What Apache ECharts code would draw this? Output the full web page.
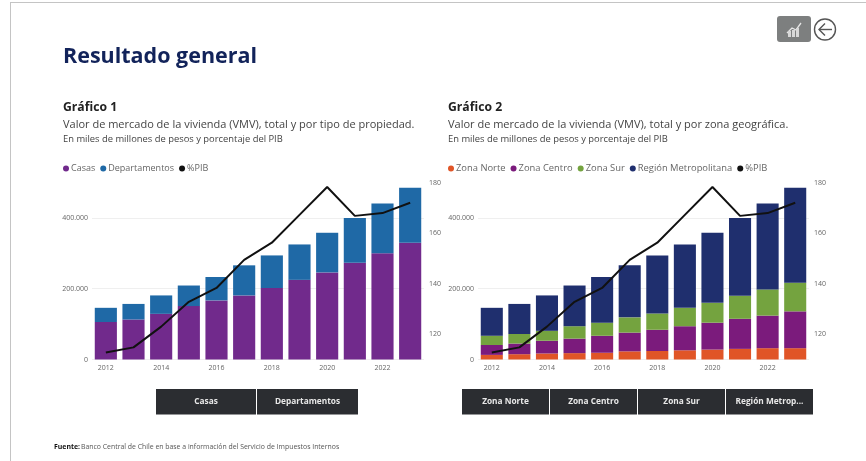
<!DOCTYPE html>
<html lang="es">
<head>
<meta charset="utf-8">
<title>Resultado general</title>
<style>
  html, body { margin: 0; padding: 0; background: #ffffff; }
  #chart { width: 866px; height: 461px; }
</style>
<script src="https://cdn.jsdelivr.net/npm/echarts@6/dist/echarts.min.js"></script>
</head>
<body>
<div id="chart"></div>
<script>
const years = ['2012','2013','2014','2015','2016','2017','2018','2019','2020','2021','2022','2023'];

// Gráfico 1: por tipo de propiedad (miles de millones de pesos)
const casas = [106,113,129,151,167,181,202,225,246,273,300,330].map(v => v * 1000);
const departamentos = [40,44,52,58,66,85,92,100,112,127,141,155].map(v => v * 1000);

// Gráfico 2: por zona geográfica (miles de millones de pesos)
const zonaNorte = [13,15,17,18,19,23,24,26,28,30,32,32].map(v => v * 1000);
const zonaCentro = [28,30,36,41,48,53,60,68,76,85,92,104].map(v => v * 1000);
const zonaSur = [26,27,28,35,37,43,46,52,56,65,74,81].map(v => v * 1000);
const regionMetropolitana = [79,85,100,115,129,147,164,179,198,220,243,268].map(v => v * 1000);

// Valor de mercado como porcentaje del PIB
const pib = [112.8,114.8,123,132.8,138.3,149.4,156.2,167.2,178.2,166.8,167.9,172];

const leftTicks = [0, 200000, 400000];
const rightTicks = [120, 140, 160, 180];
const font = '"Open Sans", sans-serif';
const textGray = '#444444';
const navy = '#12235a';

function valueAxes(gridIndex) {
  return [
    {
      type: 'value', gridIndex, min: 0, max: 500000, interval: 200000,
      axisLine: { show: false }, axisTick: { show: false },
      axisLabel: {
        customValues: leftTicks, fontFamily: font, fontSize: 7, color: '#666',
        margin: 4, formatter: v => String(v).replace(/\B(?=(\d{3})+$)/g, '.')
      },
      splitLine: { show: true, showMaxLine: false, lineStyle: { color: '#efefef', width: 1 } }
    },
    {
      type: 'value', gridIndex, min: 110, max: 180, position: 'right',
      axisLine: { show: false }, axisTick: { show: false },
      axisLabel: { customValues: rightTicks, fontFamily: font, fontSize: 7, color: '#666', margin: 5 },
      splitLine: { show: false }
    }
  ];
}

function categoryAxis(gridIndex) {
  return {
    type: 'category', gridIndex, data: years,
    axisLine: { show: false }, axisTick: { show: false },
    axisLabel: { interval: 1, fontFamily: font, fontSize: 7, color: '#666', margin: 5 }
  };
}

function barSeries(name, data, color, axisBase) {
  return {
    name, type: 'bar', stack: 'vmv' + axisBase, data, barWidth: '80%',
    xAxisIndex: axisBase, yAxisIndex: axisBase * 2,
    itemStyle: { color }, emphasis: { disabled: true }
  };
}

function pibSeries(axisBase) {
  return {
    name: '%PIB', type: 'line', data: pib, symbol: 'none', z: 5,
    xAxisIndex: axisBase, yAxisIndex: axisBase * 2 + 1,
    lineStyle: { color: '#111111', width: 2 }, itemStyle: { color: '#111111' }
  };
}

function legend(left, names, fontSize) {
  return {
    left, top: 159, data: names.map(name => ({ name, icon: 'circle' })),
    itemWidth: 6, itemHeight: 6, itemGap: 5,
    textStyle: { fontFamily: font, fontSize, color: '#666', padding: [0, 0, 0, -3] },
    selectedMode: false
  };
}

function text(x, y, content, fontSize, fontWeight, fill) {
  return {
    type: 'text', x, y,
    style: { text: content, fontFamily: font, fontSize, fontWeight, fill, textVerticalAlign: 'middle' }
  };
}

function buttons(x, y, widths, labels) {
  let cursor = x;
  const out = [];
  labels.forEach((label, i) => {
    out.push({ type: 'rect', shape: { x: cursor, y, width: widths[i], height: 25.5 }, style: { fill: '#2b2d31' } });
    out.push({
      type: 'text', x: cursor + widths[i] / 2, y: y + 13,
      style: { text: label, fontFamily: font, fontSize: 8.3, fontWeight: 700, fill: '#e8e8e8', textAlign: 'center', textVerticalAlign: 'middle' }
    });
    cursor += widths[i] + 1;
  });
  return out;
}

const graphicElements = [
  // marco de la página
  { type: 'rect', shape: { x: 10, y: 2, width: 856, height: 1 }, style: { fill: '#c4c4c4' } },
  { type: 'rect', shape: { x: 10, y: 2, width: 1, height: 459 }, style: { fill: '#c4c4c4' } },

  text(63, 57, 'Resultado general', 21.5, 700, navy),

  text(63, 108, 'Gráfico 1', 12.2, 700, '#222'),
  text(63, 125, 'Valor de mercado de la vivienda (VMV), total y por tipo de propiedad.', 11, 400, textGray),
  text(63, 139, 'En miles de millones de pesos y porcentaje del PIB', 9.4, 400, textGray),

  text(448, 108, 'Gráfico 2', 12.2, 700, '#222'),
  text(448, 125, 'Valor de mercado de la vivienda (VMV), total y por zona geográfica.', 11, 400, textGray),
  text(448, 139, 'En miles de millones de pesos y porcentaje del PIB', 9.4, 400, textGray),

  ...buttons(156, 389, [100, 101], ['Casas', 'Departamentos']),
  ...buttons(462, 389, [87, 87, 87, 87], ['Zona Norte', 'Zona Centro', 'Zona Sur', 'Región Metrop...']),

  text(54, 447, 'Fuente:', 6.9, 700, '#111'),
  text(81, 447, 'Banco Central de Chile en base a información del Servicio de Impuestos Internos', 6.9, 400, '#555'),

  // botón de gráfico y flecha de regreso
  { type: 'rect', shape: { x: 777, y: 16, width: 34, height: 26, r: 3 }, style: { fill: '#7d7f7f' } },
  { type: 'polyline', shape: { points: [[787, 33], [792, 28], [796, 30], [801, 23]] }, style: { stroke: '#e6e6e6', fill: 'none', lineWidth: 1.3 } },
  { type: 'rect', shape: { x: 788, y: 31, width: 3, height: 6 }, style: { fill: '#d8d8d8' } },
  { type: 'rect', shape: { x: 792, y: 30, width: 3, height: 7 }, style: { fill: '#d8d8d8' } },
  { type: 'rect', shape: { x: 796, y: 28, width: 3, height: 9 }, style: { fill: '#d8d8d8' } },
  { type: 'circle', shape: { cx: 825, cy: 29.5, r: 10.5 }, style: { fill: '#fff', stroke: '#555', lineWidth: 1.4 } },
  { type: 'polyline', shape: { points: [[825, 23.5], [819, 29.5], [825, 35.5]] }, style: { stroke: '#555', fill: 'none', lineWidth: 1.4 } },
  { type: 'line', shape: { x1: 819, y1: 29.5, x2: 832, y2: 29.5 }, style: { stroke: '#555', lineWidth: 1.4 } }
];

const chart = echarts.init(document.getElementById('chart'), null, { renderer: 'canvas' });
chart.setOption({
  animation: false,
  backgroundColor: '#ffffff',
  graphic: { elements: graphicElements },
  legend: [
    legend(58, ['Casas', 'Departamentos', '%PIB'], 9),
    legend(443, ['Zona Norte', 'Zona Centro', 'Zona Sur', 'Región Metropolitana', '%PIB '], 9.4)
  ],
  grid: [
    { left: 92, width: 332, top: 182.5, height: 177 },
    { left: 478, width: 331, top: 182.5, height: 177 }
  ],
  xAxis: [categoryAxis(0), categoryAxis(1)],
  yAxis: [...valueAxes(0), ...valueAxes(1)],
  series: [
    barSeries('Casas', casas, '#712a8c', 0),
    barSeries('Departamentos', departamentos, '#1f69a6', 0),
    pibSeries(0),
    barSeries('Zona Norte', zonaNorte, '#e05527', 1),
    barSeries('Zona Centro', zonaCentro, '#7b1b7c', 1),
    barSeries('Zona Sur', zonaSur, '#74a33f', 1),
    barSeries('Región Metropolitana', regionMetropolitana, '#1f2f6e', 1),
    Object.assign(pibSeries(1), { name: '%PIB ' })
  ]
});
</script>
</body>
</html>
